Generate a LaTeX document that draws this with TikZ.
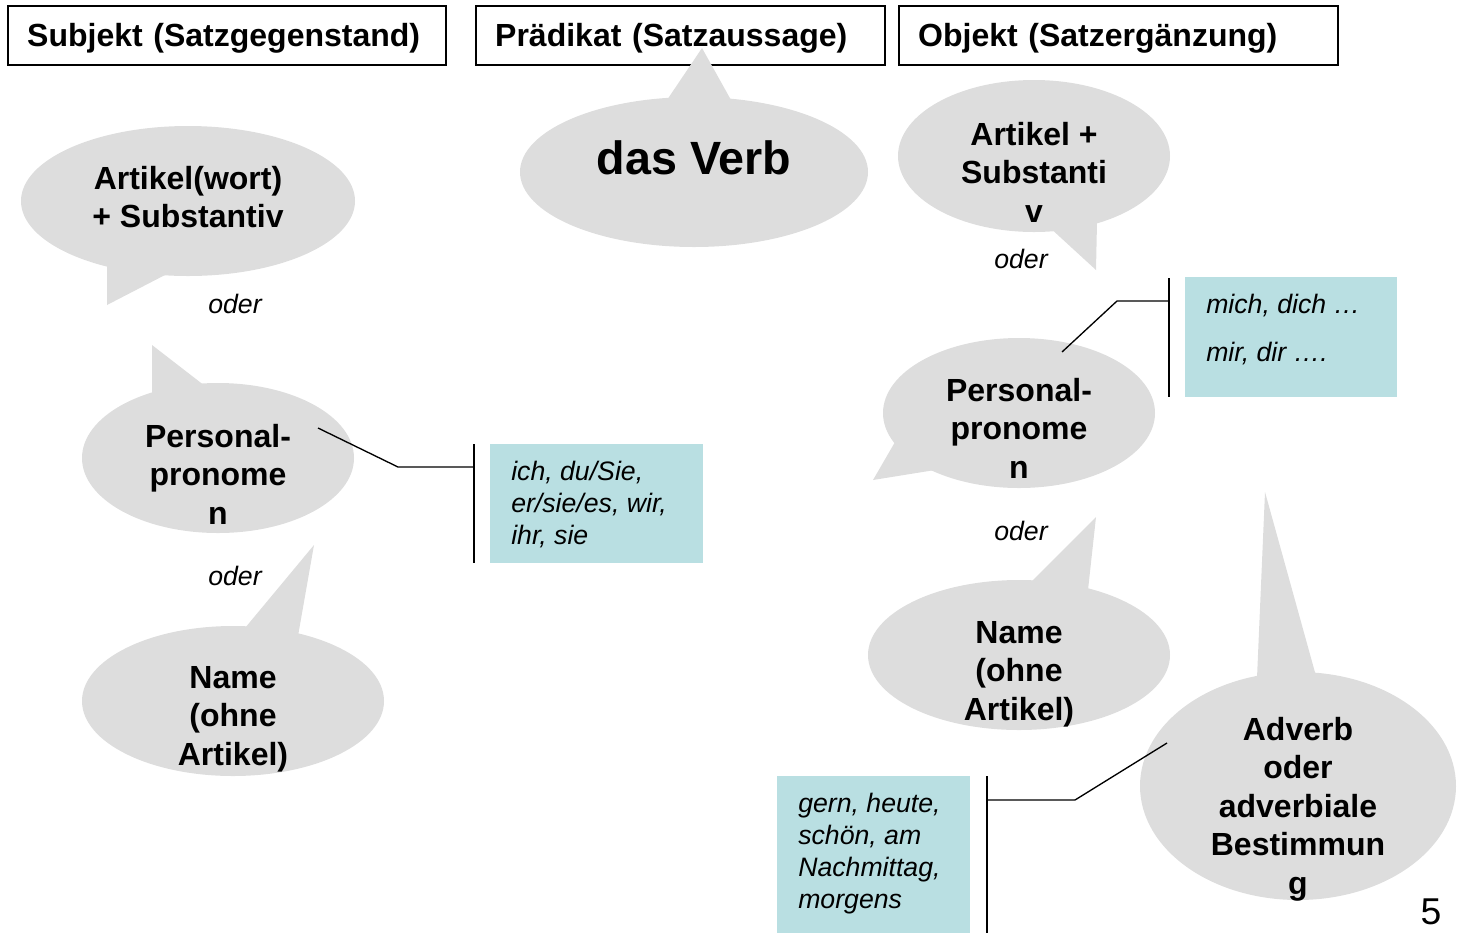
\documentclass[tikz,border=0pt]{standalone}
\usepackage{fontspec}
\setmainfont{Liberation Sans}
\usetikzlibrary{shapes.geometric}
\definecolor{bubblegrey}{RGB}{221,221,221}
\definecolor{notecyan}{RGB}{185,223,226}
\begin{document}
\begin{tikzpicture}[x=0.75pt, y=-0.75pt,
        bubble/.style={ellipse, fill=bubblegrey, inner sep=0pt},
        tail/.style={fill=bubblegrey},
        bubtext/.style={align=center, font=\fontsize{24}{28.9}\selectfont\bfseries},
        headbox/.style={draw, line width=1.3pt, anchor=north west, inner xsep=14.5pt, inner ysep=0pt,
            minimum height=44.25pt, text depth=0pt, align=left, font=\fontsize{24}{28.9}\selectfont\bfseries},
        notebox/.style={fill=notecyan, inner sep=0pt, anchor=north west},
        notetext/.style={anchor=north west, inner sep=0pt, align=left, font=\fontsize{20}{24}\selectfont\itshape},
        odertext/.style={font=\fontsize{20}{24}\selectfont\itshape},
        bar/.style={line width=1.3pt},
        callout/.style={line width=1pt}]
        \useasboundingbox (0,0) rectangle (1460,933);

        % headers
        \node[headbox, text width=299.5pt] (subj) at (7,5) {Subjekt (Satzgegenstand)};
        \node[headbox, text width=277.75pt] (praed) at (475,5) {Pr\"adikat (Satzaussage)};
        \node[headbox, text width=300.25pt] (obj) at (898,5) {Objekt (Satzerg\"anzung)};

        % subject column
        \node[bubble, minimum width=250.5pt, minimum height=112.5pt] (artsub) at (188,201) {};
        \fill[tail] (107,262) -- (107,305) -- (165,275) -- cycle;
        \node[bubtext] (artsubtxt) at (188,197) {Artikel(wort)\\+ Substantiv};
        \node[odertext] (oder1) at (235,304) {oder};

        \node[bubble, minimum width=204pt, minimum height=112.5pt] (perspro) at (218,458) {};
        \fill[tail] (152,398) -- (152,345) -- (205,386) -- cycle;
        \node[bubtext] (persprotxt) at (218,474) {Personal-\\pronome\\n};
        \node[odertext] (oder2) at (235,576) {oder};

        \node[bubble, minimum width=226.5pt, minimum height=112.5pt] (name) at (233,701) {};
        \fill[tail] (245,628) -- (314,545) -- (298,636) -- cycle;
        \node[bubtext] (nametxt) at (233,719) {Name\\(ohne\\Artikel)};

        \node[notebox, minimum width=159.75pt, minimum height=89.25pt] (persbox) at (490,444) {};
        \node[notetext] (persboxtxt) at (511,461) {ich, du/Sie,\\er/sie/es, wir,\\ihr, sie};
        \draw[bar] (474,444) -- (474,563);
        \coordinate (perscall) at (318,428);
        \coordinate (persknee) at (398,467);
        \coordinate (persbar) at (474,467);
        \draw[callout] (perscall) -- (persknee) -- (persbar);

        % predicate
        \node[bubble, minimum width=261pt, minimum height=112.5pt] (verb) at (694,172) {};
        \fill[tail] (667,100) -- (702,48) -- (731,100) -- cycle;
        \node[font=\fontsize{35}{42}\selectfont\bfseries] (verbtxt) at (694,158) {das Verb};

        % object column
        \node[bubble, minimum width=204pt, minimum height=114pt] (artsubo) at (1034,156) {};
        \fill[tail] (1048,226) -- (1096,270) -- (1097,222) -- cycle;
        \node[bubtext] (artsubotxt) at (1034,172) {Artikel +\\Substanti\\v};
        \node[odertext] (oder3) at (1021,259) {oder};

        \node[bubble, minimum width=204pt, minimum height=112.5pt] (perspro2) at (1019,413) {};
        \fill[tail] (895,442) -- (873,480) -- (935,470) -- cycle;
        \node[bubtext] (perspro2txt) at (1019,428) {Personal-\\pronome\\n};
        \node[odertext] (oder4) at (1021,531) {oder};

        \node[bubble, minimum width=226.5pt, minimum height=112.5pt] (name2) at (1019,655) {};
        \fill[tail] (1032,581) -- (1096,517) -- (1088,590) -- cycle;
        \node[bubtext] (name2txt) at (1019,674) {Name\\(ohne\\Artikel)};

        \node[notebox, minimum width=159pt, minimum height=90pt] (objbox) at (1185,277) {};
        \node[notetext] (objboxtxt) at (1206,294) {mich, dich \dots\\[12pt]mir, dir \dots.};
        \draw[bar] (1169,278) -- (1169,397);
        \coordinate (objcall) at (1062,352);
        \coordinate (objknee) at (1117,301);
        \coordinate (objbar) at (1169,301);
        \draw[callout] (objcall) -- (objknee) -- (objbar);

        \node[bubble, minimum width=237pt, minimum height=171pt] (adverb) at (1298,786) {};
        \fill[tail] (1257,678) -- (1265,492) -- (1316,676) -- cycle;
        \node[bubtext] (adverbtxt) at (1298,809) {Adverb\\oder\\adverbiale\\Bestimmun\\g};

        \node[notebox, minimum width=144.75pt, minimum height=117.75pt] (advbox) at (777,776) {};
        \node[notetext] (advboxtxt) at (798,793) {gern, heute,\\sch\"on, am\\Nachmittag,\\morgens};
        \draw[bar] (987,776) -- (987,933);
        \coordinate (advcall) at (1167,743);
        \coordinate (advknee) at (1075,800);
        \coordinate (advbar) at (987,800);
        \draw[callout] (advcall) -- (advknee) -- (advbar);

        \node[inner sep=0pt, font=\fontsize{28}{34}\selectfont] (pagenum) at (1431,912) {5};
    \end{tikzpicture}
\end{document}
